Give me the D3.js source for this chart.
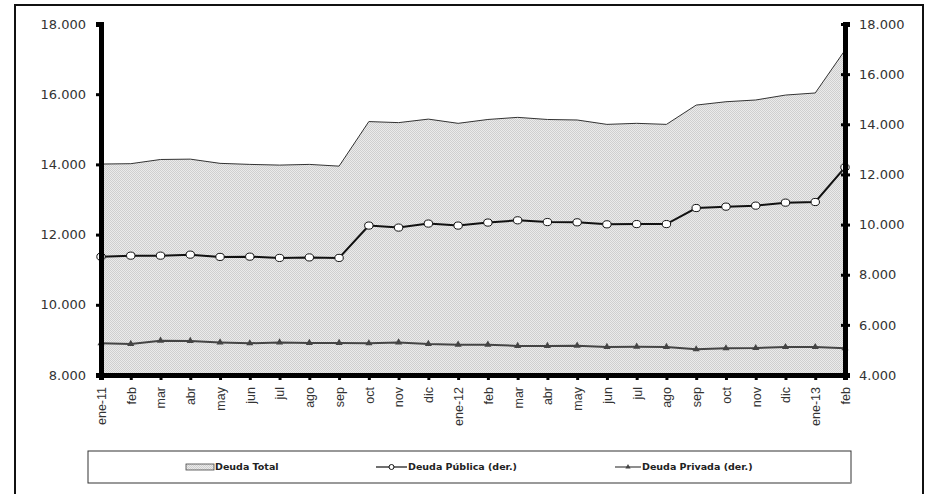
<!DOCTYPE html>
<html>
<head>
<meta charset="utf-8">
<script src="https://cdn.jsdelivr.net/npm/d3@7"></script>
<style>
body { margin: 0; background: #fff; }
svg text { font-family: "Liberation Sans", Arial, sans-serif; }
</style>
</head>
<body>
<svg id="chart" width="926" height="494"></svg>
<script>
var months = ["ene-11","feb","mar","abr","may","jun","jul","ago","sep","oct","nov","dic",
	"ene-12","feb","mar","abr","may","jun","jul","ago","sep","oct","nov","dic","ene-13","feb"];

var deudaTotal = [14010,14020,14140,14150,14030,14000,13980,14000,13950,15220,15190,15290,
	15170,15280,15340,15280,15265,15140,15170,15140,15690,15785,15835,15975,16035,17255];

var deudaPublica = [8720,8760,8760,8800,8710,8720,8670,8690,8670,9960,9880,10040,
	9960,10080,10170,10100,10090,10010,10020,10020,10660,10715,10755,10875,10900,12285];

var deudaPrivada = [5265,5240,5370,5360,5300,5265,5300,5280,5280,5265,5300,5240,
	5210,5210,5160,5160,5170,5120,5130,5120,5025,5065,5075,5115,5115,5065];

var leftTicks = [8000,10000,12000,14000,16000,18000];
var rightTicks = [4000,6000,8000,10000,12000,14000,16000,18000];

var svg = d3.select("#chart");
var margin = {left: 101, right: 845, top: 24, bottom: 375};
var fmt = function (v) { return d3.format(",")(v).replace(/,/g, "."); };

var idx = d3.range(months.length);
var x = d3.scalePoint().domain(idx).range([margin.left, margin.right]);
var yL = d3.scaleLinear().domain([8000, 18000]).range([margin.bottom, margin.top]);
var yR = d3.scaleLinear().domain([4000, 18000]).range([margin.bottom, margin.top]);

// outer frame
svg.append("rect")
	.attr("x", 15).attr("y", 5).attr("width", 908).attr("height", 500)
	.attr("fill", "none").attr("stroke", "#111").attr("stroke-width", 2);

// dotted fill pattern
var pat = svg.append("defs").append("pattern")
	.attr("id", "dots").attr("width", 2).attr("height", 2)
	.attr("patternUnits", "userSpaceOnUse");
pat.append("rect").attr("width", 2).attr("height", 2).attr("fill", "#ebebeb");
pat.append("rect").attr("width", 1).attr("height", 1).attr("fill", "#cfcfcf");
pat.append("rect").attr("x", 1).attr("y", 1).attr("width", 1).attr("height", 1).attr("fill", "#cfcfcf");

var area = d3.area()
	.x(function (d, i) { return x(i); })
	.y0(yL(8000))
	.y1(function (d) { return yL(d); });

svg.append("path")
	.datum(deudaTotal)
	.attr("d", area)
	.attr("fill", "url(#dots)");

svg.append("path")
	.datum(deudaTotal)
	.attr("d", d3.line().x(function (d, i) { return x(i); }).y(function (d) { return yL(d); }))
	.attr("fill", "none").attr("stroke", "#333").attr("stroke-width", 1);

// private line
var lineR = d3.line().x(function (d, i) { return x(i); }).y(function (d) { return yR(d); });

svg.append("path")
	.datum(deudaPrivada)
	.attr("d", lineR)
	.attr("fill", "none").attr("stroke", "#444").attr("stroke-width", 2);

svg.append("g").selectAll("path.tri")
	.data(deudaPrivada)
	.enter().append("path")
	.attr("class", "tri")
	.attr("d", d3.symbol().type(d3.symbolTriangle).size(22))
	.attr("transform", function (d, i) { return "translate(" + x(i) + "," + yR(d) + ")"; })
	.attr("fill", "#444");

// public line
svg.append("path")
	.datum(deudaPublica)
	.attr("d", lineR)
	.attr("fill", "none").attr("stroke", "#111").attr("stroke-width", 2);

svg.append("g").selectAll("ellipse")
	.data(deudaPublica)
	.enter().append("ellipse")
	.attr("cx", function (d, i) { return x(i); })
	.attr("cy", function (d) { return yR(d); })
	.attr("rx", 4.2).attr("ry", 3.6)
	.attr("fill", "#fff").attr("stroke", "#111").attr("stroke-width", 1);

// axes
var leftAxis = svg.append("g")
	.attr("transform", "translate(" + margin.left + ",0)")
	.call(d3.axisLeft(yL).tickValues(leftTicks).tickFormat(fmt).tickSize(5).tickPadding(10));
var rightAxis = svg.append("g")
	.attr("transform", "translate(" + margin.right + ",0)")
	.call(d3.axisRight(yR).tickValues(rightTicks).tickFormat(fmt).tickSize(5).tickPadding(9));
var bottomAxis = svg.append("g")
	.attr("transform", "translate(0," + margin.bottom + ")")
	.call(d3.axisBottom(x).tickFormat(function (i) { return months[i]; }).tickSize(5).tickPadding(4));

[leftAxis, rightAxis, bottomAxis].forEach(function (g) {
	g.select(".domain").attr("stroke", "#000").attr("stroke-width", 5);
	g.selectAll(".tick line").attr("stroke", "#000").attr("stroke-width", 3);
	g.selectAll(".tick text").attr("fill", "#333")
		.style("font-family", "'DejaVu Sans', sans-serif").style("font-size", "13px");
});
rightAxis.selectAll(".tick line").attr("x1", -4);

bottomAxis.selectAll(".tick text")
	.attr("transform", "rotate(-90)")
	.attr("text-anchor", "end")
	.attr("x", -12).attr("y", 0).attr("dy", "0.35em")
	.style("font-family", "'Liberation Sans', Arial, sans-serif")
	.style("font-size", "12.5px");

// legend
var lg = svg.append("g");
lg.append("rect")
	.attr("x", 88).attr("y", 451).attr("width", 763).attr("height", 32)
	.attr("fill", "#fff").attr("stroke", "#333").attr("stroke-width", 1);
lg.append("line")
	.attr("x1", 89).attr("x2", 851).attr("y1", 483).attr("y2", 483)
	.attr("stroke", "#999").attr("stroke-width", 2);

var ly = 467;
var legendText = function (xPos, label) {
	lg.append("text").attr("x", xPos).attr("y", ly).attr("dy", "0.35em")
		.style("font-family", "'DejaVu Sans', sans-serif")
		.style("font-size", "9.5px").style("font-weight", "bold").attr("fill", "#222")
		.text(label);
};

lg.append("rect")
	.attr("x", 186).attr("y", ly - 3).attr("width", 28).attr("height", 6)
	.attr("fill", "url(#dots)").attr("stroke", "#444").attr("stroke-width", 0.8);
legendText(215, "Deuda Total");

lg.append("line").attr("x1", 376).attr("x2", 407).attr("y1", ly).attr("y2", ly)
	.attr("stroke", "#111").attr("stroke-width", 1.2);
lg.append("circle").attr("cx", 391.5).attr("cy", ly).attr("r", 2.5)
	.attr("fill", "#fff").attr("stroke", "#111").attr("stroke-width", 1);
legendText(408, "Deuda Pública (der.)");

lg.append("line").attr("x1", 615).attr("x2", 641).attr("y1", ly).attr("y2", ly)
	.attr("stroke", "#444").attr("stroke-width", 1.2);
lg.append("path").attr("d", d3.symbol().type(d3.symbolTriangle).size(12))
	.attr("transform", "translate(628," + ly + ")").attr("fill", "#444");
legendText(642, "Deuda Privada (der.)");
</script>
</body>
</html>
